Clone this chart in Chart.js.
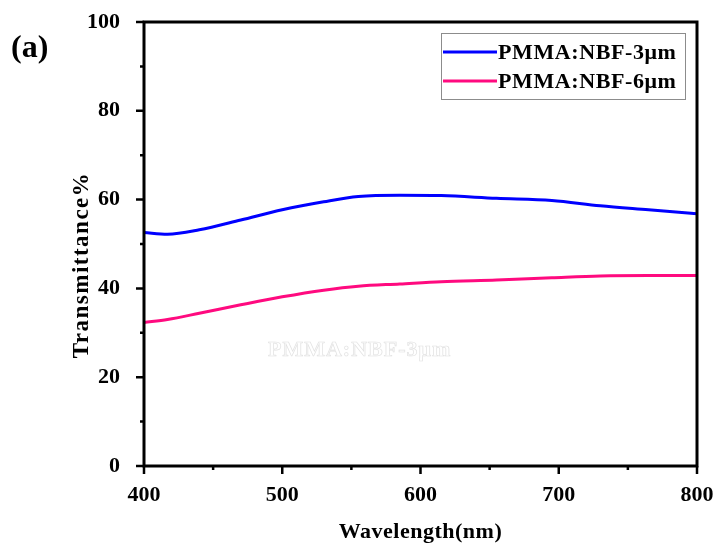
<!DOCTYPE html>
<html>
<head>
<meta charset="utf-8">
<script src="https://cdn.jsdelivr.net/npm/chart.js@4.4.1/dist/chart.umd.min.js"></script>
<style>
  html, body { margin: 0; padding: 0; background: #ffffff; }
  #wrap { width: 717px; height: 547px; }
</style>
</head>
<body>
<div id="wrap"><canvas id="c" width="717" height="547"></canvas></div>
<script>
// Transmittance spectra of PMMA:NBF films
const wavelengths = [400, 417, 440, 470, 500, 530, 555, 585, 615, 655, 695, 730, 765, 800];
const film3um = [52.6, 52.2, 53.2, 55.4, 57.7, 59.5, 60.7, 61.0, 60.9, 60.3, 59.8, 58.6, 57.7, 56.8];
const film6um = [32.3, 33.0, 34.4, 36.3, 38.1, 39.6, 40.5, 41.0, 41.5, 41.9, 42.4, 42.8, 42.9, 42.9];
const seriesLabels = ['PMMA:NBF-3\u03bcm', 'PMMA:NBF-6\u03bcm'];
const seriesColors = ['#0000ff', '#ff0a7f'];
const xTicks = [400, 500, 600, 700, 800];
const yTicks = [0, 20, 40, 60, 80, 100];
const xMinor = [450, 550, 650, 750];
const yMinor = [10, 30, 50, 70, 90];

const FONT = '"Liberation Serif", "Times New Roman", serif';

const toPoints = (xs, ys) => xs.map((x, i) => ({ x: x, y: ys[i] }));

// Frame, tick marks, axis titles, panel label and faint caption
const decorations = {
  id: 'decorations',
  beforeDatasetsDraw(chart) {
    const ctx = chart.ctx;
    const ys = chart.scales.y;
    const xs = chart.scales.x;
    ctx.save();
    ctx.font = 'bold 22px ' + FONT;
    ctx.strokeStyle = '#e2e2e2';
    ctx.lineWidth = 0.7;
    ctx.textAlign = 'center';
    ctx.textBaseline = 'middle';
    ctx.letterSpacing = '1px';
    const cx = xs.getPixelForValue(556);
    const cy = ys.getPixelForValue(26);
    ctx.strokeText(seriesLabels[0], cx, cy);
    ctx.restore();
  },
  afterDraw(chart) {
    const ctx = chart.ctx;
    const a = chart.chartArea;
    const xs = chart.scales.x;
    const ys = chart.scales.y;
    ctx.save();
    ctx.strokeStyle = '#000';
    ctx.lineWidth = 3;
    ctx.lineCap = 'square';
    ctx.strokeRect(a.left, a.top, a.right - a.left, a.bottom - a.top);

    ctx.lineCap = 'butt';
    ctx.lineWidth = 2.5;
    ctx.beginPath();
    xTicks.forEach(v => { const p = xs.getPixelForValue(v); ctx.moveTo(p, a.bottom); ctx.lineTo(p, a.bottom + 8); });
    xMinor.forEach(v => { const p = xs.getPixelForValue(v); ctx.moveTo(p, a.bottom); ctx.lineTo(p, a.bottom + 4); });
    yTicks.forEach(v => { const p = ys.getPixelForValue(v); ctx.moveTo(a.left, p); ctx.lineTo(a.left - 8, p); });
    yMinor.forEach(v => { const p = ys.getPixelForValue(v); ctx.moveTo(a.left, p); ctx.lineTo(a.left - 4, p); });
    ctx.stroke();

    ctx.fillStyle = '#000';
    ctx.font = 'bold 22px ' + FONT;
    ctx.textAlign = 'center';
    ctx.textBaseline = 'alphabetic';
    ctx.letterSpacing = '0.5px';
    ctx.fillText('Wavelength(nm)', (a.left + a.right) / 2, 538);

    ctx.save();
    ctx.translate(88, 265);
    ctx.rotate(-Math.PI / 2);
    ctx.font = 'bold 23px ' + FONT;
    ctx.letterSpacing = '1.5px';
    ctx.fillText('Transmittance%', 0, 0);
    ctx.restore();

    ctx.letterSpacing = '0px';
    ctx.font = 'bold 32px ' + FONT;
    ctx.textAlign = 'left';
    ctx.fillText('(a)', 11, 57);

    // legend box
    const lx = 441, ly = 33, lw = 244, lh = 66;
    ctx.fillStyle = '#fff';
    ctx.fillRect(lx, ly, lw, lh);
    ctx.strokeStyle = '#8c8c8c';
    ctx.lineWidth = 1;
    ctx.strokeRect(lx + 0.5, ly + 0.5, lw, lh);
    chart.data.datasets.forEach((ds, i) => {
      const yy = 52 + i * 29;
      ctx.strokeStyle = ds.borderColor;
      ctx.lineWidth = 3;
      ctx.beginPath();
      ctx.moveTo(443, yy);
      ctx.lineTo(497, yy);
      ctx.stroke();
      ctx.fillStyle = '#000';
      ctx.font = 'bold 22px ' + FONT;
      ctx.letterSpacing = '0.6px';
      ctx.textAlign = 'left';
      ctx.textBaseline = 'middle';
      ctx.fillText(ds.label, 498, yy + 1);
    });
    ctx.restore();
  }
};

new Chart(document.getElementById('c'), {
  type: 'line',
  data: {
    datasets: [
      { label: seriesLabels[0], data: toPoints(wavelengths, film3um), borderColor: seriesColors[0], borderWidth: 3, pointRadius: 0, tension: 0.4, cubicInterpolationMode: 'monotone', fill: false },
      { label: seriesLabels[1], data: toPoints(wavelengths, film6um), borderColor: seriesColors[1], borderWidth: 3, pointRadius: 0, tension: 0.4, cubicInterpolationMode: 'monotone', fill: false }
    ]
  },
  options: {
    responsive: false,
    animation: false,
    events: [],
    layout: { padding: { top: 22, right: 20, left: 0, bottom: 0 } },
    plugins: { legend: { display: false }, tooltip: { enabled: false } },
    scales: {
      x: {
        type: 'linear', min: 400, max: 800,
        afterFit(s) { s.height = 81; s.paddingLeft = 0; s.paddingRight = 0; },
        afterBuildTicks(s) { s.ticks = xTicks.map(v => ({ value: v })); },
        grid: { display: false },
        border: { display: false },
        ticks: { color: '#000', padding: 8, maxRotation: 0, font: { family: FONT, size: 22, weight: 'bold' } }
      },
      y: {
        type: 'linear', min: 0, max: 100,
        afterFit(s) { s.width = 144; s.paddingTop = 0; s.paddingBottom = 0; },
        afterBuildTicks(s) { s.ticks = yTicks.map(v => ({ value: v })); },
        grid: { display: false },
        border: { display: false },
        ticks: { color: '#000', padding: 16, font: { family: FONT, size: 22, weight: 'bold' } }
      }
    }
  },
  plugins: [decorations]
});
</script>
</body>
</html>
